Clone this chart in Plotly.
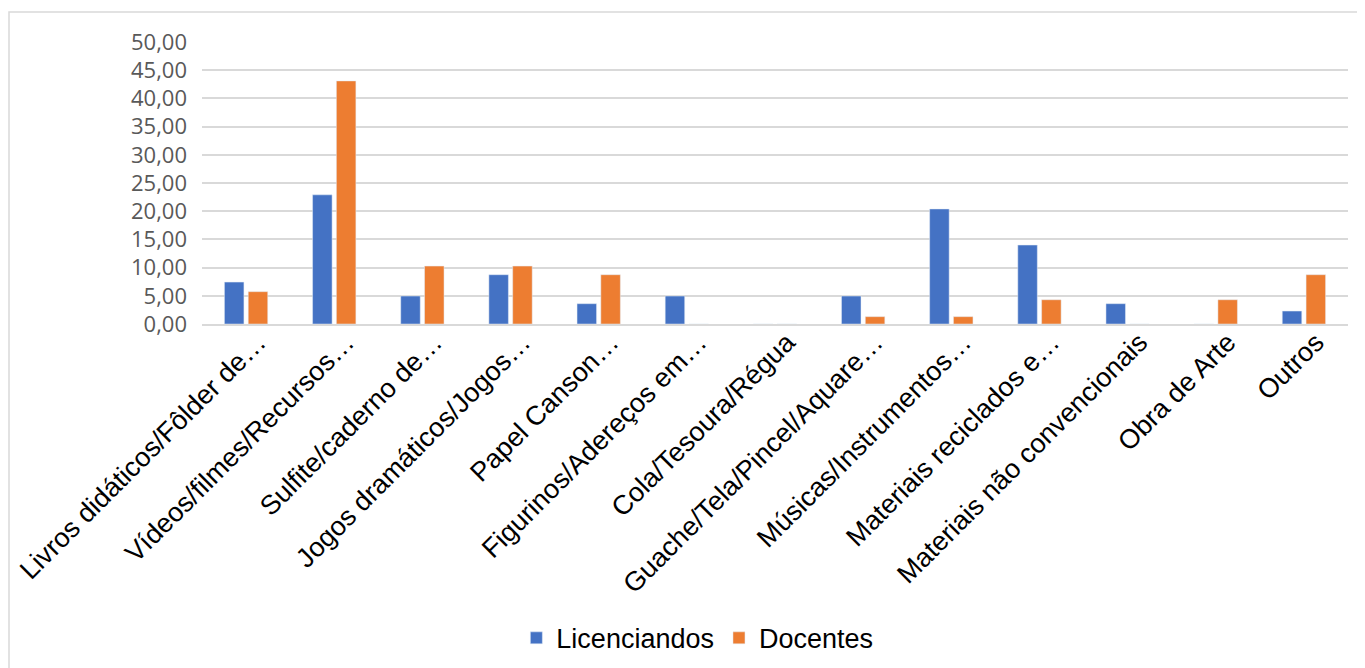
import plotly.graph_objs as go

categories = ["Livros didáticos/Fôlder de…", "Vídeos/filmes/Recursos…", "Sulfite/caderno de…",
              "Jogos dramáticos/Jogos…", "Papel Canson…", "Figurinos/Adereços em…", "Cola/Tesoura/Régua",
              "Guache/Tela/Pincel/Aquare…", "Músicas/Instrumentos…", "Materiais reciclados e…",
              "Materiais não convencionais", "Obra de Arte", "Outros"]
licenciandos = [7.44, 22.9, 4.96, 8.74, 3.6, 4.96, 0, 4.96, 20.4, 14.0, 3.6, 0, 2.3]
docentes = [5.73, 43.1, 10.27, 10.27, 8.74, 0, 0, 1.3, 1.3, 4.3, 0, 4.3, 8.74]
y_ticks = [0, 5, 10, 15, 20, 25, 30, 35, 40, 45, 50]

traces = [
    go.Bar(x=categories, y=licenciandos, name="Licenciandos", marker_color="#4472C4"),
    go.Bar(x=categories, y=docentes, name="Docentes", marker_color="#ED7D31"),
]

# page body has an 8px margin, so the figure is drawn from (8, 8)
fig_w, fig_h = 1357, 660
left, right, top, bottom = 194, 17, 34, 344
w, h = fig_w - left - right, fig_h - top - bottom

# outer chart border (Excel style frame), in paper coords of the plot area
frame = dict(type="rect", xref="paper", yref="paper",
             x0=(1 - left) / w, x1=(fig_w + 20 - left) / w,
             y0=(fig_h - bottom - fig_h - 20) / h, y1=(fig_h - bottom - 4) / h,
             line=dict(color="#D9D9D9", width=1.5), fillcolor="rgba(0,0,0,0)", layer="below")

layout = go.Layout(
    width=fig_w, height=fig_h,
    margin=dict(l=left, r=right, t=top, b=bottom, autoexpand=False),
    paper_bgcolor="white", plot_bgcolor="white",
    barmode="group", bargap=0.46, bargroupgap=0.18,
    separators=",.",
    font=dict(family="Liberation Sans, Arial", color="black"),
    xaxis=dict(tickangle=-45, tickfont=dict(size=27, color="black"), showgrid=False, automargin=False,
               showline=True, linecolor="#D9D9D9", linewidth=1.5, ticks="",
               ticklabelshift=12, ticklabelstandoff=-10),
    yaxis=dict(range=[0, 50], tickvals=y_ticks, tickformat=".2f", showline=False, automargin=False,
               tickfont=dict(family="Open Sans", size=22, color="#595959"),
               gridcolor="#D9D9D9", gridwidth=1.5, zeroline=False, ticks="", ticklabelstandoff=14),
    legend=dict(orientation="h", xref="container", x=0.508, xanchor="center",
                yref="container", y=0.045, yanchor="middle",
                font=dict(size=27, color="black"), itemwidth=30),
    shapes=[frame],
    showlegend=True,
)

fig = go.Figure(data=traces, layout=layout)
fig.write_html("out.html")
